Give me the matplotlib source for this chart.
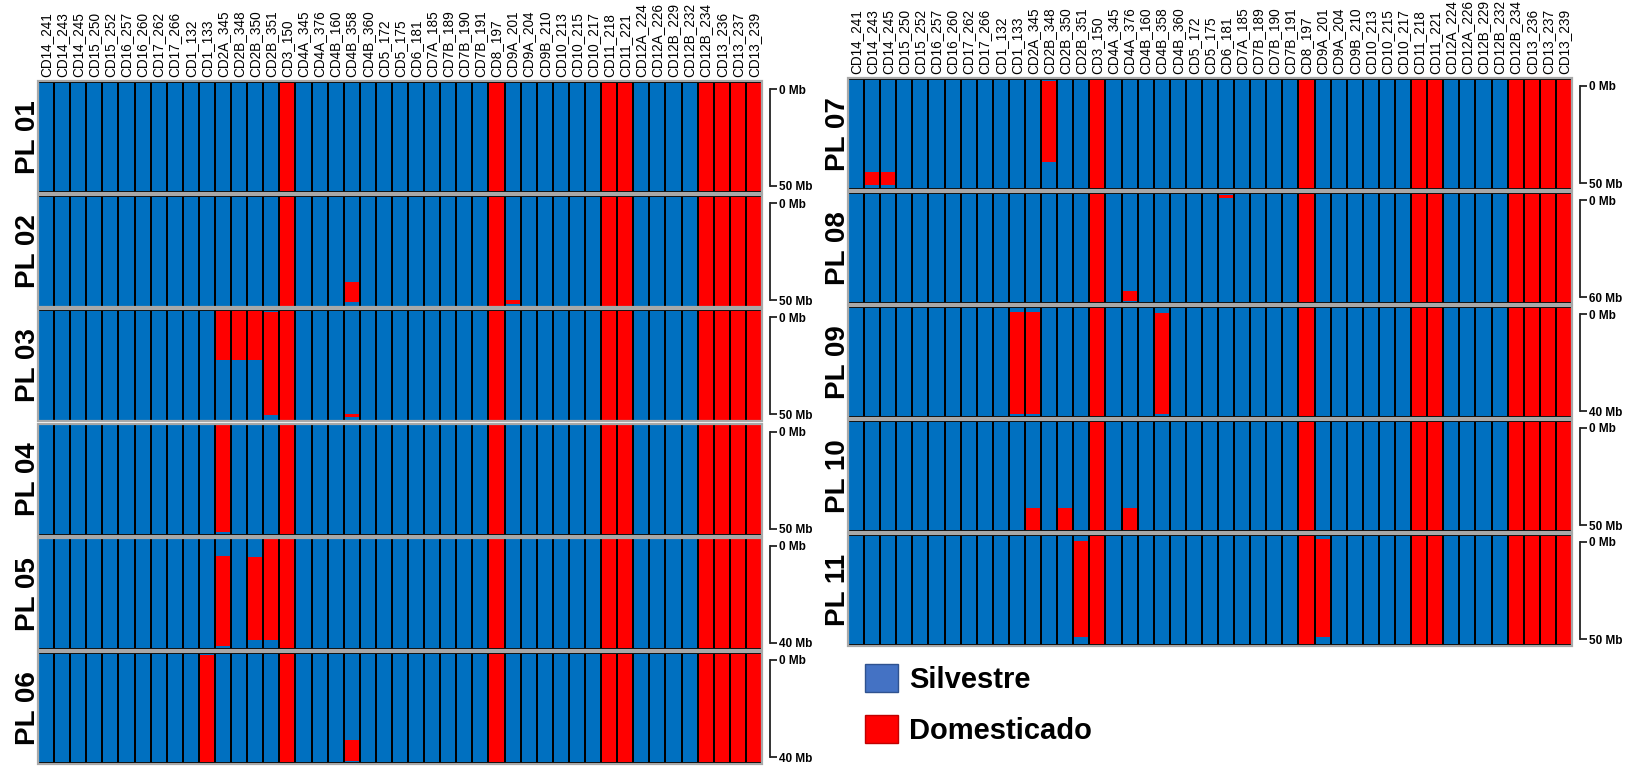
import matplotlib.pyplot as plt
from matplotlib.patches import Patch, Rectangle

plt.rcParams['font.family'] = ['Liberation Sans', 'DejaVu Sans']

markers = ["CD14_241", "CD14_243", "CD14_245", "CD15_250", "CD15_252", "CD16_257",
           "CD16_260", "CD17_262", "CD17_266", "CD1_132", "CD1_133", "CD2A_345",
           "CD2B_348", "CD2B_350", "CD2B_351", "CD3_150", "CD4A_345", "CD4A_376",
           "CD4B_160", "CD4B_358", "CD4B_360", "CD5_172", "CD5_175", "CD6_181",
           "CD7A_185", "CD7B_189", "CD7B_190", "CD7B_191", "CD8_197", "CD9A_201",
           "CD9A_204", "CD9B_210", "CD10_213", "CD10_215", "CD10_217", "CD11_218",
           "CD11_221", "CD12A_224", "CD12A_226", "CD12B_229", "CD12B_232", "CD12B_234",
           "CD13_236", "CD13_237", "CD13_239"]

# markers fully domesticated in every plant
fixed_dom = ["CD3_150", "CD8_197", "CD11_218", "CD11_221", "CD12B_234",
             "CD13_236", "CD13_237", "CD13_239"]

samples_left = ["PL 01", "PL 02", "PL 03", "PL 04", "PL 05", "PL 06"]
samples_right = ["PL 07", "PL 08", "PL 09", "PL 10", "PL 11"]
length_left = [50, 50, 50, 50, 40, 40]
length_right = [50, 60, 40, 50, 50]

# extra domesticated segments: (marker, start Mb, end Mb)
seg_pl01 = []
seg_pl02 = [("CD4B_358", 39, 48), ("CD9A_201", 47.2, 48.8)]
seg_pl03 = [("CD2A_345", 0, 22.5), ("CD2B_348", 0, 22.5), ("CD2B_350", 0, 22.5),
            ("CD2B_351", 0.8, 47.2), ("CD4B_358", 47, 48.2),
            ("CD11_221", 1.3, 2.3), ("CD11_221", 22.5, 50)]
seg_pl04 = [("CD2A_345", 0, 48.5)]
seg_pl05 = [("CD2A_345", 6.4, 39), ("CD2B_350", 6.8, 36.6), ("CD2B_351", 0, 36.6)]
seg_pl06 = [("CD1_133", 0.8, 39.6), ("CD4B_358", 31.6, 39.2)]
seg_pl07 = [("CD14_243", 42, 48), ("CD14_245", 42, 48), ("CD2B_348", 1, 37.5)]
seg_pl08 = [("CD4A_376", 53.4, 58.8), ("CD6_181", 1.2, 3)]
seg_pl09 = [("CD1_133", 2, 38.8), ("CD2A_345", 2, 38.8), ("CD4B_358", 2.4, 38.8)]
seg_pl10 = [("CD2A_345", 39.5, 49.5), ("CD2B_350", 39.5, 49.5), ("CD4A_376", 39.5, 49.5)]
seg_pl11 = [("CD2B_351", 3, 46), ("CD9A_201", 2, 46)]

segs_left = [seg_pl01, seg_pl02, seg_pl03, seg_pl04, seg_pl05, seg_pl06]
segs_right = [seg_pl07, seg_pl08, seg_pl09, seg_pl10, seg_pl11]

blue = "#0070C0"
red = "#FF0000"
W, H = 1629, 767


def draw_row(ax, name, length, segs, top_labels, row_px):
    n = len(markers)
    x = list(range(n))
    ax.bar(x, [length] * n, width=1, color=blue, edgecolor="none")
    xr = [markers.index(m) for m in fixed_dom]
    ax.bar(xr, [length] * len(xr), width=1, color=red, edgecolor="none")
    for m, a, b in segs:
        ax.bar(markers.index(m), b - a, bottom=a, width=1, color=red, edgecolor="none")
    ax.bar(x, [length] * n, width=1, fill=False, edgecolor="black", linewidth=1.4)
    ax.set_xlim(-0.5, n - 0.5)
    ax.set_ylim(length * 1.005, -length * 0.005)
    ax.set_yticks([])
    for s in ax.spines.values():
        s.set_visible(False)
    ax.add_patch(Rectangle((0, 0), 1, 1, transform=ax.transAxes, fill=False,
                           edgecolor="#a8a8a8", linewidth=1.6, clip_on=False))

    if top_labels:
        ax.xaxis.tick_top()
        ax.set_xticks(x)
        ax.set_xticklabels(markers, rotation=90, fontsize=9.8)
        ax.tick_params(axis="x", length=0, pad=2.8)
    else:
        ax.set_xticks([])

    # scale bracket on the right, slightly inset from the row edges
    inset_top, inset_bot = 8, 7
    span = length * row_px / (row_px - inset_top - inset_bot)
    sc = ax.twinx()
    sc.set_ylim(length + span * inset_bot / row_px, -span * inset_top / row_px)
    for s in ["left", "top", "bottom"]:
        sc.spines[s].set_visible(False)
    sc.spines["right"].set_position(("outward", 6))
    sc.spines["right"].set_bounds(0, length)
    sc.spines["right"].set_linewidth(1.3)
    sc.spines["right"].set_color("#222222")
    sc.set_yticks([0, length])
    sc.set_yticklabels(["0 Mb", f"{length} Mb"], fontsize=8.5, fontweight="bold")
    sc.tick_params(axis="y", direction="out", length=5, width=1.3, pad=1,
                   color="#222222")

    ax.text(-0.014, 0.5, name, transform=ax.transAxes, rotation=90,
            ha="center", va="center", fontsize=20, fontweight="bold")


fig = plt.figure(figsize=(16.29, 7.67), dpi=100)

for i, name in enumerate(samples_left):
    top = 81 + i * 114.2
    ax = fig.add_axes([38 / W, 1 - (top + 112) / H, 724 / W, 112 / H])
    draw_row(ax, name, length_left[i], segs_left[i], i == 0, 112)

for i, name in enumerate(samples_right):
    top = 78 + i * 114
    ax = fig.add_axes([848 / W, 1 - (top + 112) / H, 724 / W, 112 / H])
    draw_row(ax, name, length_right[i], segs_right[i], i == 0, 112)

handles = [Patch(facecolor="#4472C4", edgecolor="#2F528F", label="Silvestre"),
           Patch(facecolor=red, edgecolor="#C00000", label="Domesticado")]
fig.legend(handles=handles, loc="upper left", bbox_to_anchor=(865 / W, 1 - 664 / H),
           frameon=False, prop={"weight": "bold", "size": 21},
           handlelength=1.12, handleheight=1.12, labelspacing=0.7,
           handletextpad=0.4, borderpad=0, borderaxespad=0)

fig.savefig("out.png", dpi=100)
